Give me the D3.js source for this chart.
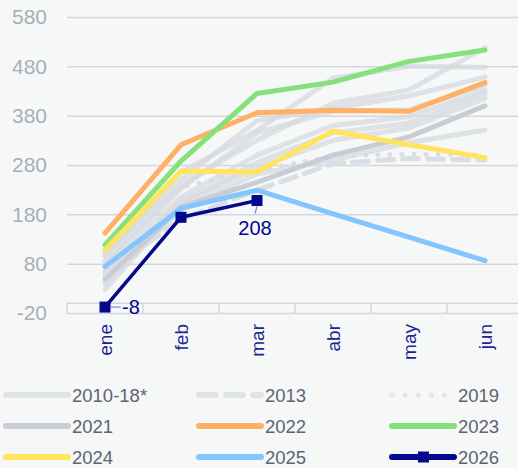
<!DOCTYPE html>
<html>
<head>
<meta charset="utf-8">
<script src="https://cdn.jsdelivr.net/npm/d3@7"></script>
<style>
  body { margin: 0; background: #f6f8f8; }
  svg { display: block; font-family: "Liberation Sans", Arial, sans-serif; }
</style>
</head>
<body>
<div id="main"></div>
<script>
const W = 518;
const H = 468;

// categories and ticks
var months = ["ene", "feb", "mar", "abr", "may", "jun"];
var yTicks = [-20, 80, 180, 280, 380, 480, 580];

// 2010-18* (several light grey years)
var hist = [
    [95, 265, 350, 456, 480, 478],
    [85, 240, 330, 405, 432, 518],
    [75, 232, 345, 389, 392, 442],
    [65, 215, 300, 360, 378, 432],
    [55, 205, 285, 345, 365, 425],
    [40, 190, 262, 290, 325, 351],
    [28, 200, 275, 330, 355, 415],
    [100, 250, 370, 395, 420, 458]
];
var s2013 = [60, 170, 229, 283, 293, 290];
var s2019 = [95, 235, 268, 298, 302, 300];
var s2021 = [48, 195, 245, 300, 337, 400];
var s2022 = [142, 321, 386, 391, 389, 447];
var s2023 = [118, 288, 425, 448, 490, 513];
var s2024 = [108, 268, 266, 349, 321, 295];
var s2025 = [74, 192, 229, 181, 134, 86];
var s2026 = [-8, 174, 208];

var legendItems = [
    {name: "2010-18*", color: "#dfe2e7", dash: null},
    {name: "2013", color: "#dfe2e7", dash: "dash"},
    {name: "2019", color: "#e3e5ea", dash: "dot"},
    {name: "2021", color: "#cacdd6", dash: null},
    {name: "2022", color: "#ffb065", dash: null},
    {name: "2023", color: "#86e07c", dash: null},
    {name: "2024", color: "#ffe45c", dash: null},
    {name: "2025", color: "#82c5ff", dash: null},
    {name: "2026", color: "#03098c", dash: null, marker: true}
];

var svg = d3.select("#main").append("svg")
    .attr("width", W)
    .attr("height", H);

svg.append("rect").attr("width", W).attr("height", H).attr("fill", "#f6f8f8");

var x = d3.scaleBand().domain(months).range([67, 523]);
var y = d3.scaleLinear().domain([-20, 580]).range([313, 17]);

// gridlines + y labels
var yAxis = svg.append("g")
    .attr("transform", "translate(67,0)")
    .call(d3.axisLeft(y).tickValues(yTicks).tickFormat(d => String(d))
        .tickSize(-(W - 67)).tickPadding(20));
yAxis.select(".domain").remove();
yAxis.selectAll(".tick line").attr("stroke", "#d3d6df").attr("stroke-width", 1.5);
yAxis.selectAll(".tick text")
    .attr("fill", "#a8aeb9")
    .style("font-size", "21px")
    .style("font-family", "'Liberation Sans', Arial, sans-serif");

// x axis at zero with ticks between categories
var axG = svg.append("g");
axG.append("line")
    .attr("x1", 67).attr("x2", W)
    .attr("y1", y(0)).attr("y2", y(0))
    .attr("stroke", "#d3d6df").attr("stroke-width", 1.5);
axG.selectAll("line.tk")
    .data(months)
    .enter().append("line")
    .attr("class", "tk")
    .attr("x1", d => x(d)).attr("x2", d => x(d))
    .attr("y1", y(0)).attr("y2", y(-20))
    .attr("stroke", "#d3d6df").attr("stroke-width", 1.5);

var xAxis = svg.append("g")
    .attr("transform", "translate(0," + y(-20) + ")")
    .call(d3.axisBottom(x).tickSize(0).tickPadding(0));
xAxis.select(".domain").remove();
xAxis.selectAll(".tick text")
    .attr("transform", "translate(0,11) rotate(-90)")
    .attr("dy", "0.35em")
    .attr("x", 0).attr("y", 0)
    .attr("text-anchor", "end")
    .attr("fill", "#1c2594")
    .style("font-size", "19px")
    .style("font-family", "'Liberation Sans', Arial, sans-serif");

var line = d3.line()
    .x((d, i) => x(months[i]) + x.bandwidth() / 2)
    .y(d => y(d));

var plotG = svg.append("g")
    .attr("fill", "none")
    .attr("stroke-linecap", "round")
    .attr("stroke-linejoin", "round");

plotG.selectAll("path.hist")
    .data(hist)
    .enter().append("path")
    .attr("class", "hist")
    .attr("d", line)
    .attr("stroke", "#d6d9df")
    .attr("stroke-opacity", 0.75)
    .attr("stroke-width", 5);

var drawSeries = function(vals, color, w, dash){
    return plotG.append("path")
        .datum(vals)
        .attr("d", line)
        .attr("stroke", color)
        .attr("stroke-width", w)
        .attr("stroke-dasharray", dash);
};

drawSeries(s2013, "#dadde3", 5, "16 9");
drawSeries(s2019, "#dadde3", 5, "0.1 12");
drawSeries(s2021, "#c8ccd5", 5, null);
drawSeries(s2022, "#ffb065", 5, null);
drawSeries(s2023, "#86e07c", 5, null);
drawSeries(s2024, "#ffe45c", 5, null);
drawSeries(s2025, "#82c5ff", 5, null);
drawSeries(s2026, "#03098c", 3.5, null).attr("stroke-linecap", "butt");

var cx = i => x(months[i]) + x.bandwidth() / 2;

svg.selectAll("rect.mk")
    .data(s2026)
    .enter().append("rect")
    .attr("class", "mk")
    .attr("x", (d, i) => cx(i) - 5.5)
    .attr("y", d => y(d) - 5.5)
    .attr("width", 11).attr("height", 11)
    .attr("fill", "#03098c");

// data labels
var first = 0, last = s2026.length - 1;
svg.append("line")
    .attr("x1", cx(first) + 6).attr("x2", cx(first) + 16)
    .attr("y1", y(s2026[first])).attr("y2", y(s2026[first]))
    .attr("stroke", "#7c86f0").attr("stroke-width", 1.2);
svg.append("text")
    .attr("x", cx(first) + 17).attr("y", y(s2026[first]) + 7)
    .attr("fill", "#03098c")
    .style("font-size", "20px")
    .text(String(s2026[first]));
svg.append("line")
    .attr("x1", cx(last)).attr("x2", cx(last) - 2)
    .attr("y1", y(s2026[last]) + 6).attr("y2", y(s2026[last]) + 13)
    .attr("stroke", "#7c86f0").attr("stroke-width", 1.2);
svg.append("text")
    .attr("x", cx(last) - 2).attr("y", y(s2026[last]) + 34)
    .attr("text-anchor", "middle")
    .attr("fill", "#03098c")
    .style("font-size", "20px")
    .text(String(s2026[last]));

// legend
var colX = [6, 199, 392];
var rowY = [395, 426, 457];
var lg = svg.selectAll("g.lg")
    .data(legendItems)
    .enter().append("g")
    .attr("class", "lg")
    .attr("transform", (d, i) => "translate(" + colX[i % 3] + "," + rowY[Math.floor(i / 3)] + ")");

lg.append("line")
    .attr("x1", 0).attr("x2", 62)
    .attr("y1", 0).attr("y2", 0)
    .attr("stroke", d => d.color)
    .attr("stroke-width", d => d.dash === "dot" ? 5 : 6)
    .attr("stroke-linecap", "round")
    .attr("stroke-dasharray", d => d.dash === "dash" ? "17 10" : (d.dash === "dot" ? "0.1 13" : null));

lg.filter(d => d.marker).append("rect")
    .attr("x", 26).attr("y", -5.5)
    .attr("width", 11).attr("height", 11)
    .attr("fill", d => d.color);

lg.append("text")
    .attr("x", 66).attr("y", 7)
    .attr("fill", "#5d6373")
    .style("font-size", "18.5px")
    .text(d => d.name);
</script>
</body>
</html>
